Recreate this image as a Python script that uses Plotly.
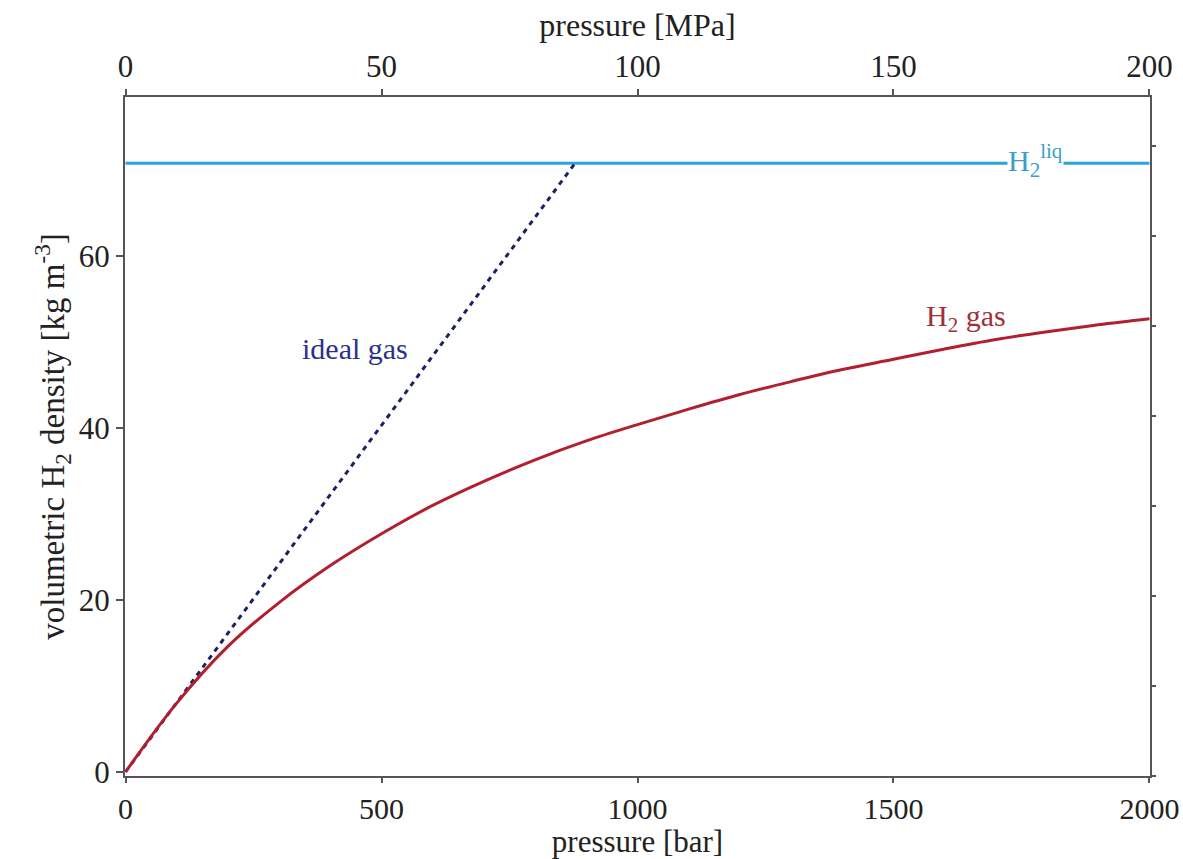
import plotly.graph_objects as go

# ---- data ----
pressure_bar = [0, 100, 200, 300, 400, 500, 600, 700, 800, 900, 1000,
                1100, 1200, 1300, 1400, 1500, 1600, 1700, 1800, 1900, 2000]
h2_gas_density = [0, 8.0, 14.6, 19.7, 24.0, 27.7, 31.0, 33.8, 36.3, 38.5, 40.4,
                  42.2, 43.9, 45.4, 46.8, 48.0, 49.2, 50.3, 51.2, 52.0, 52.7]
ideal_pressure = [0, 878]
ideal_density = [0, 70.8]
liquid_pressure = [0, 2000]
liquid_density = [70.8, 70.8]
bar_ticks = [0, 500, 1000, 1500, 2000]
mpa_ticks = [0, 50, 100, 150, 200]
y_ticks = [0, 20, 40, 60]
right_ticks = [0, 1, 2, 3, 4, 5, 6, 7]

FONT = "Liberation Serif"
AXIS_COL = "#555555"
TXT = "#222222"

fig = go.Figure()
fig.add_trace(go.Scatter(x=liquid_pressure, y=liquid_density, mode="lines",
                         line=dict(color="#2AA5DC", width=3), showlegend=False))
fig.add_trace(go.Scatter(x=ideal_pressure, y=ideal_density, mode="lines",
                         line=dict(color="#1C2260", width=3, dash="5px,5px"), showlegend=False))
fig.add_trace(go.Scatter(x=pressure_bar, y=h2_gas_density, mode="lines",
                         line_shape="spline", line_smoothing=1.0,
                         line=dict(color="#B21F2F", width=3), showlegend=False))
# invisible trace to carry the top MPa axis
fig.add_trace(go.Scatter(x=[p / 10 for p in pressure_bar], y=h2_gas_density, xaxis="x2", yaxis="y",
                         mode="lines", line=dict(width=0), opacity=0, hoverinfo="skip", showlegend=False))
# invisible trace to carry the right tick axis
fig.add_trace(go.Scatter(x=[0, 2000], y=[0, 7], xaxis="x", yaxis="y2",
                         mode="lines", line=dict(width=0), opacity=0, hoverinfo="skip", showlegend=False))

axis_common = dict(showline=True, linecolor=AXIS_COL, linewidth=2, ticks="outside",
                   tickcolor=AXIS_COL, tickwidth=2, showgrid=False, zeroline=False, automargin=False)

fig.update_layout(
    width=1183, height=859,
    margin=dict(l=125, r=33, t=97, b=83, autoexpand=False),
    paper_bgcolor="white", plot_bgcolor="white",
    font=dict(family=FONT, color=TXT),
    xaxis=dict(range=[-1, 2001], tickvals=bar_ticks, ticklen=5,
               tickfont=dict(family=FONT, size=30, color=TXT),
               title=dict(text="pressure [bar]", font=dict(family=FONT, size=31, color=TXT), standoff=3),
               **axis_common),
    xaxis2=dict(range=[-0.1, 200.1], tickvals=mpa_ticks, overlaying="x", side="top", ticklen=6,
                tickfont=dict(family=FONT, size=31, color=TXT),
                title=dict(text="pressure [MPa]", font=dict(family=FONT, size=32, color=TXT), standoff=2),
                **axis_common),
    yaxis=dict(range=[-0.47, 78.5], tickvals=y_ticks, ticklen=7,
               tickfont=dict(family=FONT, size=31, color=TXT),
               title=dict(text="volumetric H<sub>2</sub> density [kg m<sup>-3</sup>]",
                          font=dict(family=FONT, size=33, color=TXT), standoff=4),
               **axis_common),
    yaxis2=dict(range=[0, 7.55], tickvals=right_ticks, overlaying="y", side="right",
                showticklabels=False, ticklen=4, showline=True, linecolor=AXIS_COL, linewidth=2,
                ticks="outside", tickcolor=AXIS_COL, tickwidth=2, showgrid=False, zeroline=False,
                automargin=False),
    annotations=[
        dict(x=448, y=49.2, xref="x", yref="y", text="ideal gas", showarrow=False,
             font=dict(family=FONT, size=30, color="#2B3285")),
        dict(x=1642, y=52.8, xref="x", yref="y", text="H<sub>2</sub> gas", showarrow=False,
             font=dict(family=FONT, size=30, color="#A0303C")),
        dict(x=1777, y=70.8, xref="x", yref="y", text="H<sub>2</sub><sup>liq</sup>", showarrow=False,
             bgcolor="white", borderpad=0, yshift=3,
             font=dict(family=FONT, size=30, color="#3A9FC8")),
    ],
)

fig.write_html("out.html")
